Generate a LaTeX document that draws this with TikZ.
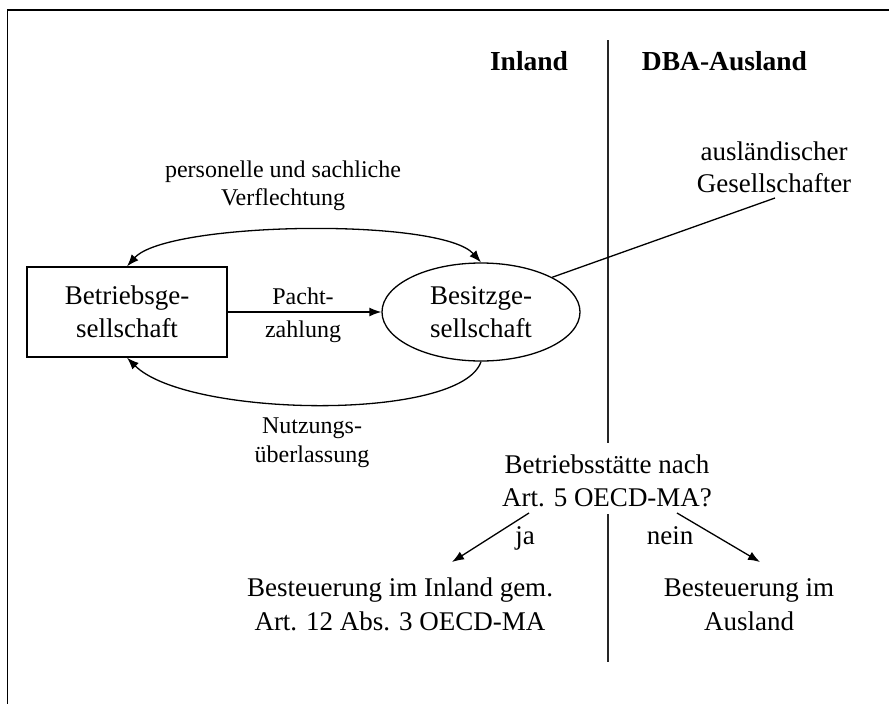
\documentclass[tikz,border=0pt]{standalone}
\usepackage{fontspec}
\setmainfont{Liberation Serif}
\usetikzlibrary{arrows.meta,shapes.geometric}
\begin{document}
\begin{tikzpicture}[x=1pt,y=-1pt,
  conn/.style={line width=1.3pt},
  tip/.tip={Latex[length=12pt,width=9pt]},
  arr/.style={conn,-tip},
  big/.style={font=\fontsize{27}{33.5}\selectfont, align=center, inner sep=0pt},
  small/.style={font=\fontsize{24}{28}\selectfont, align=center, inner sep=0pt},
  head/.style={font=\fontsize{27.5}{33}\selectfont\bfseries, inner sep=0pt, anchor=base},
  divider/.style={line width=1.2pt, black!85},
]
\useasboundingbox (0,0) rectangle (889,704);
% frame
\draw[line width=1.6pt] (7.5,704) -- (7.5,10) -- (889,10);

% headings
\node[head] (inl) at (529,70) {Inland};
\node[head] (dba) at (724.5,70) {DBA-Ausland};

% divider
\coordinate (d1) at (608,40);
\coordinate (d2) at (608,443);
\coordinate (d3) at (608,514);
\coordinate (d4) at (608,662);
\draw[divider] (d1) -- (d2);
\draw[divider] (d3) -- (d4);

% main nodes
\node[big, draw, line width=1.3pt, minimum width=200pt, minimum height=90pt, inner sep=0pt] (rect) at (127,312) {Betriebsge-\\sellschaft};
\node[big, draw, ellipse, line width=1.3pt, minimum width=198pt, minimum height=98pt, inner sep=0pt] (ell) at (481,312) {Besitzge-\\sellschaft};

% labels
\node[small] (verf) at (283,185.4) {personelle und sachliche\\Verflechtung};
\node[small, font=\fontsize{24}{33}\selectfont] (pacht) at (303,314.9) {Pacht-\\zahlung};
\node[small, font=\fontsize{24}{29}\selectfont] (nutz) at (312,443.2) {Nutzungs-\\überlassung};
\node[big, font=\fontsize{27}{32}\selectfont] (ges) at (774,166.8) {ausländischer\\Gesellschafter};
\node[big] (q) at (607,481) {Betriebsstätte nach\\Art. 5 OECD-MA?};
\node[big, anchor=base] (ja) at (525,544) {ja};
\node[big, anchor=base] (nein) at (670,544) {nein};
\node[big] (inres) at (400,604.5) {Besteuerung im Inland gem.\\Art. 12 Abs. 3 OECD-MA};
\node[big] (ausres) at (749,604.5) {Besteuerung im\\Ausland};

% connectors
\draw[conn, tip-tip] (rect.north) .. controls +(40,-45) and +(-40,-45) .. (ell.north);
\draw[arr] (ell.south) .. controls +(-20,60) and +(60,60) .. (rect.south);
\draw[arr] (rect.east) -- (ell.west);
\coordinate (gesEnd) at (775,198);
\draw[conn] (ell.26) -- (gesEnd);
\coordinate (jaS) at (529,513);
\coordinate (jaE) at (452,562);
\coordinate (neinS) at (677,513);
\coordinate (neinE) at (760,562);
\draw[arr] (jaS) -- (jaE);
\draw[arr] (neinS) -- (neinE);
\end{tikzpicture}
\end{document}
